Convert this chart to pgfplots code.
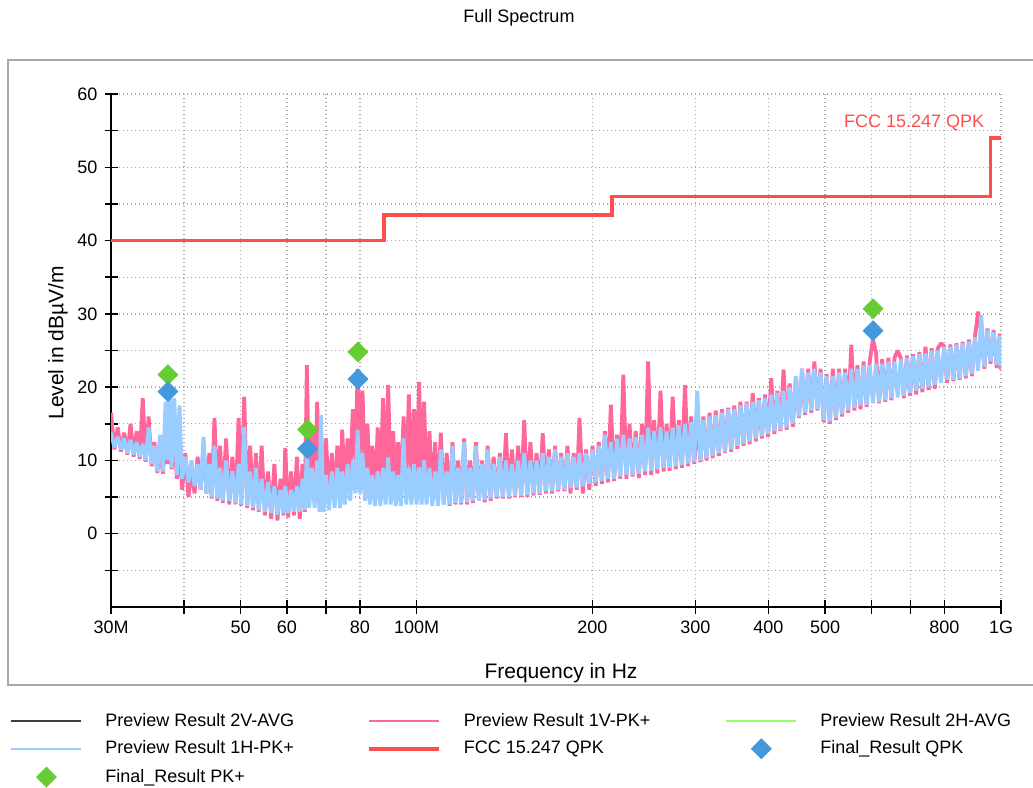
\documentclass[border=0pt]{standalone}
\usepackage{fontspec}
\setmainfont{Liberation Sans}
\usepackage{pgfplots}
\usepackage{pgfplotstable}
\pgfplotsset{compat=1.18}
\definecolor{pinkline}{RGB}{255,102,153}
\definecolor{blueline}{RGB}{153,204,255}
\definecolor{limitred}{RGB}{255,77,77}
\definecolor{pkgreen}{RGB}{102,204,51}
\definecolor{qpkblue}{RGB}{66,153,221}
\definecolor{avggray}{RGB}{64,64,64}
\definecolor{avggreen}{RGB}{153,255,102}
\definecolor{gridgray}{RGB}{170,170,170}
\definecolor{framegray}{RGB}{168,168,168}

\pgfplotstableread{
f b p
30.0 13.8 16.5
30.4 11.8 11.5
30.8 13.2 14.5
31.2 11.5 11.2
31.6 13.0 13.8
32.0 11.0 10.8
32.4 12.8 15.0
32.8 10.8 10.5
33.2 12.5 14.0
33.6 10.5 10.2
34.0 12.2 18.5
34.4 10.0 9.8
34.8 14.5 16.0
35.2 9.5 9.2
35.6 12.0 12.5
36.0 8.5 8.3
36.4 13.5 12.0
36.8 8.5 8.2
37.2 18.0 13.0
37.5 10.0 9.5
37.8 19.4 14.0
38.1 9.0 8.8
38.5 18.5 13.0
38.9 8.0 7.5
39.3 17.5 12.5
39.7 7.5 6.0
40.2 10.5 11.0
40.7 7.0 5.0
41.2 10.0 9.0
41.7 6.5 5.5
42.2 9.5 10.5
42.7 6.0 6.0
43.2 13.2 12.0
43.7 5.5 5.5
44.2 9.5 11.0
44.6 5.0 4.8
45.1 12.0 15.8
45.6 4.8 4.5
46.1 9.0 12.0
46.6 4.5 4.2
47.2 10.0 13.0
47.8 4.5 4.0
48.4 8.5 10.5
49.0 4.2 4.0
49.6 9.5 15.8
50.1 4.0 3.8
50.7 14.6 18.7
51.3 3.8 3.5
51.9 8.5 12.0
52.5 3.5 3.2
53.1 9.0 11.0
53.7 3.2 3.0
54.3 7.5 12.0
55.0 3.0 2.5
55.7 7.0 8.5
56.4 2.8 2.0
57.1 6.5 9.5
57.8 2.6 1.8
58.5 6.0 7.5
59.2 2.8 2.5
59.6 6.5 11.7
60.3 2.8 2.2
61.0 6.0 8.5
61.7 3.0 2.5
62.4 6.5 10.5
63.1 3.0 2.0
63.8 7.5 9.5
64.4 3.2 3.0
64.9 11.5 23.0
65.5 3.5 4.0
66.2 9.0 14.5
66.9 3.5 5.0
67.6 10.0 18.0
68.2 3.0 4.5
68.6 16.2 15.0
69.3 3.0 3.5
70.0 8.0 13.0
70.8 3.2 4.5
71.6 8.5 11.0
72.4 3.5 4.5
73.2 9.0 12.0
74.0 3.5 5.0
74.6 8.5 14.2
75.4 4.0 6.0
76.2 9.5 13.0
77.0 4.5 8.0
77.8 10.0 17.0
78.6 5.5 10.0
79.3 14.2 22.5
80.0 5.5 11.0
80.8 11.0 19.5
81.6 4.5 8.0
82.4 9.0 15.0
83.2 4.0 6.0
84.0 8.0 12.0
84.9 3.8 5.0
85.8 8.5 14.5
86.7 3.8 5.5
87.6 9.0 18.5
88.5 4.0 6.0
89.4 10.4 20.3
90.3 4.0 6.5
91.2 8.5 14.0
92.1 3.8 5.5
93.0 8.0 12.5
94.0 3.8 6.0
95.0 13.0 16.0
96.0 4.0 6.5
97.0 9.0 19.0
98.0 4.0 7.0
99.0 9.5 17.0
100.0 4.0 7.0
101.0 9.0 20.7
102.0 4.0 6.5
103.0 10.0 18.0
104.0 4.0 6.0
105.2 9.0 14.0
106.4 3.8 5.0
107.6 8.5 12.5
108.8 3.8 4.5
110.0 11.5 13.8
111.3 4.0 4.0
112.6 8.5 11.0
113.9 4.0 3.8
115.2 12.0 12.5
116.5 4.2 4.0
117.8 9.0 10.0
119.2 4.2 4.0
120.6 12.5 13.0
122.0 4.3 4.0
123.4 9.0 10.0
124.8 4.5 4.2
126.3 12.0 12.5
127.8 4.5 4.5
129.3 9.5 10.0
130.8 4.6 4.3
132.3 11.5 12.0
133.9 4.8 4.5
135.5 9.5 10.5
137.1 5.0 4.8
138.8 10.5 11.0
140.5 5.0 4.8
142.2 10.0 13.7
143.9 5.0 4.8
145.6 9.5 11.5
147.4 5.2 5.0
149.2 10.0 12.0
151.0 5.2 5.0
152.8 11.0 15.5
154.7 5.3 5.0
156.6 10.0 12.5
158.5 5.5 5.2
160.4 10.0 11.0
162.4 5.5 5.3
164.4 11.0 13.7
166.4 5.8 5.5
168.4 10.5 11.5
170.5 5.8 5.5
172.6 11.5 12.0
174.7 6.0 5.8
176.8 10.5 11.0
179.0 6.0 5.8
181.2 11.0 12.0
183.4 6.2 5.5
185.7 10.5 11.0
188.0 6.3 6.0
190.0 11.0 15.8
192.5 6.5 5.5
195.0 11.0 11.5
197.5 6.8 6.0
200.0 11.5 12.0
202.5 7.0 6.5
205.0 12.0 12.5
207.5 7.2 6.8
210.0 13.5 14.0
212.5 7.5 7.0
215.0 12.5 17.6
217.7 7.5 7.2
220.4 13.0 13.5
223.1 7.8 7.5
225.8 13.5 21.7
228.6 8.0 7.5
231.4 13.0 15.0
234.2 8.0 7.8
237.1 13.2 14.0
240.0 8.2 7.6
243.0 13.5 15.0
246.0 8.5 8.0
249.0 14.5 23.5
252.0 8.6 8.0
255.0 14.0 15.5
258.2 8.8 8.2
261.4 14.5 19.5
264.6 9.0 8.5
267.8 14.0 15.0
271.0 9.0 8.6
274.3 14.5 18.7
277.6 9.2 8.8
281.0 14.8 15.5
284.4 9.4 9.0
287.9 15.0 20.3
291.4 9.6 9.2
295.0 15.2 16.0
298.6 9.8 9.5
302.2 19.5 15.5
305.9 10.0 9.8
309.6 15.5 16.0
313.4 10.3 10.0
317.2 16.0 16.5
321.1 10.6 10.3
325.0 16.2 16.8
329.0 11.0 10.6
333.0 16.5 17.0
337.1 11.2 11.0
341.2 17.0 17.2
345.4 11.5 11.2
349.6 17.0 17.5
353.9 12.0 11.6
358.2 17.5 18.0
362.6 12.3 12.0
367.0 17.8 18.0
371.5 12.6 12.2
376.0 18.0 19.2
380.6 13.0 12.6
385.2 18.2 18.5
389.9 13.3 13.0
394.7 18.5 19.0
399.5 13.6 13.2
404.4 19.0 21.2
409.3 14.0 13.6
414.3 19.2 19.5
419.4 14.2 14.0
424.5 19.5 22.4
429.7 14.5 14.2
435.0 20.0 20.5
440.3 15.0 14.6
445.7 21.5 21.5
451.1 16.0 15.8
456.6 22.5 22.5
462.2 16.5 16.2
467.8 22.0 22.5
473.5 16.8 16.5
479.3 22.5 23.5
485.2 17.0 16.8
491.1 22.0 22.5
497.1 15.5 15.2
503.2 21.5 21.8
509.3 15.3 15.0
515.5 21.5 22.5
521.8 15.8 15.5
528.2 22.0 22.5
534.6 16.3 16.0
541.1 22.0 22.5
547.7 16.8 16.5
554.4 22.5 25.8
561.2 17.2 16.8
568.0 22.5 23.0
574.9 17.5 17.0
581.9 23.0 23.5
589.0 17.6 17.3
596.2 23.0 23.5
603.6 17.8 26.5
611.0 23.2 24.8
618.5 18.0 17.8
626.1 23.2 23.8
633.8 18.2 18.0
641.6 23.5 24.0
649.4 18.5 18.2
657.4 23.5 24.0
665.5 18.6 25.0
673.6 23.8 24.0
681.9 18.8 18.5
690.3 24.0 24.3
698.7 19.2 18.8
707.3 24.2 24.5
716.0 19.5 19.0
724.8 24.5 24.8
733.7 19.8 19.3
742.7 24.6 25.5
751.8 20.0 19.6
761.0 25.0 25.3
770.4 20.3 19.8
779.8 25.0 25.3
789.4 20.6 26.0
799.1 25.5 25.6
808.9 21.0 20.6
818.8 25.5 25.8
828.9 21.0 20.8
839.1 25.8 26.0
849.4 21.2 21.0
859.8 26.0 26.2
870.4 21.5 21.2
881.0 26.2 26.5
891.9 21.8 21.5
902.8 26.8 27.0
913.9 22.2 30.3
925.1 29.8 27.5
936.5 22.8 22.5
948.0 27.8 28.0
959.6 23.5 23.2
971.4 27.5 27.8
983.3 23.0 22.6
995.4 27.0 27.3
1000.0 22.8 22.4
}\spec

\pgfplotsset{
  lineleg/.style={legend image code/.code={\draw[##1] (0pt,0pt) -- (35pt,0pt);}},
  markleg/.style={legend image code/.code={\draw[##1, mark repeat=2, mark phase=2] plot coordinates {(0pt,0pt) (17.5pt,0pt) (35pt,0pt)};}},
}

\begin{document}
\begin{tikzpicture}
\path[use as bounding box] (0pt,0pt) rectangle (516.5pt,393.5pt);
\draw[framegray, line width=1pt] (4pt,51pt) rectangle (520pt,363.5pt);
\node[font=\fontsize{9}{11}\selectfont] at (259.5pt,384.5pt) {Full Spectrum};
\node[font=\fontsize{10.5}{12}\selectfont] at (280.5pt,57pt) {Frequency in Hz};
\node[font=\fontsize{10.5}{12}\selectfont, rotate=90] at (29pt,222pt) {Level in dBµV/m};
\begin{axis}[
  at={(55.5pt,90pt)}, anchor=south west,
  scale only axis, width=445pt, height=256.5pt,
  xmode=log, log basis x=10,
  xmin=30, xmax=1000, ymin=-10, ymax=60,
  xtick={30,40,50,60,70,80,100,200,300,400,500,600,700,800,1000},
  xticklabels={30M,,50,60,,80,100M,200,300,400,500,,,800,1G},
  ytick={-5,0,5,10,15,20,25,30,35,40,45,50,55,60},
  yticklabels={,0,,10,,20,,30,,40,,50,,60},
  axis lines=left, axis line style={-, line width=0.75pt, black},
  tick align=center, major tick length=6.5pt,
  tick style={black, line width=0.75pt},
  grid=major, grid style={gridgray, line width=0.7pt, dash pattern=on 0.7pt off 1.3pt},
  ticklabel style={font=\fontsize{9}{11}\selectfont},
  legend columns=3, legend cell align=left,
  legend style={draw=none, fill=none, at={(-0.1135,-0.2047)}, anchor=north west,
    font=\fontsize{9}{11}\selectfont, inner sep=0pt, row sep=4.25pt,
    nodes={inner sep=0pt, text height=7pt, text depth=2pt},
    /tikz/every odd column/.append style={column sep=11.5pt}},
  clip mode=individual,
]
\addplot[pinkline, line width=1.9pt, line join=bevel, forget plot] table[x=f, y=p] {\spec};
\addplot[blueline, line width=1.9pt, line join=bevel, forget plot] table[x=f, y=b] {\spec};
\addplot[limitred, line width=1.85pt, forget plot] coordinates {
  (30,40) (88,40) (88,43.5) (216,43.5) (216,46) (960,46) (960,54) (1000,54)};
\addplot[only marks, mark=square*, mark size=3.5pt, mark options={rotate=45, draw=pkgreen, fill=pkgreen}, forget plot]
  coordinates {(37.55,21.7) (65.1,14.2) (79.4,24.8) (604,30.7)};
\addplot[only marks, mark=square*, mark size=3.5pt, mark options={rotate=45, draw=qpkblue, fill=qpkblue}, forget plot]
  coordinates {(37.55,19.4) (65.1,11.6) (79.4,21.1) (604,27.7)};
\node[anchor=east, text=limitred, font=\fontsize{9}{11}\selectfont] at (axis cs:962,56) {FCC 15.247 QPK};

\addlegendimage{lineleg, avggray, line width=1pt}
\addlegendentry{\makebox[130.75pt][l]{Preview Result 2V-AVG}}
\addlegendimage{lineleg, pinkline, line width=1pt}
\addlegendentry{\makebox[130.75pt][l]{Preview Result 1V-PK+}}
\addlegendimage{lineleg, avggreen, line width=1pt}
\addlegendentry{Preview Result 2H-AVG}
\addlegendimage{lineleg, blueline, line width=1pt}
\addlegendentry{\makebox[130.75pt][l]{Preview Result 1H-PK+}}
\addlegendimage{lineleg, limitred, line width=2pt}
\addlegendentry{\makebox[130.75pt][l]{FCC 15.247 QPK}}
\addlegendimage{markleg, only marks, mark=square*, mark size=3.5pt, mark options={rotate=45, draw=qpkblue, fill=qpkblue}}
\addlegendentry{Final\_Result QPK}
\addlegendimage{markleg, only marks, mark=square*, mark size=3.5pt, mark options={rotate=45, draw=pkgreen, fill=pkgreen}}
\addlegendentry{\makebox[130.75pt][l]{Final\_Result PK+}}
\end{axis}
\end{tikzpicture}
\end{document}
